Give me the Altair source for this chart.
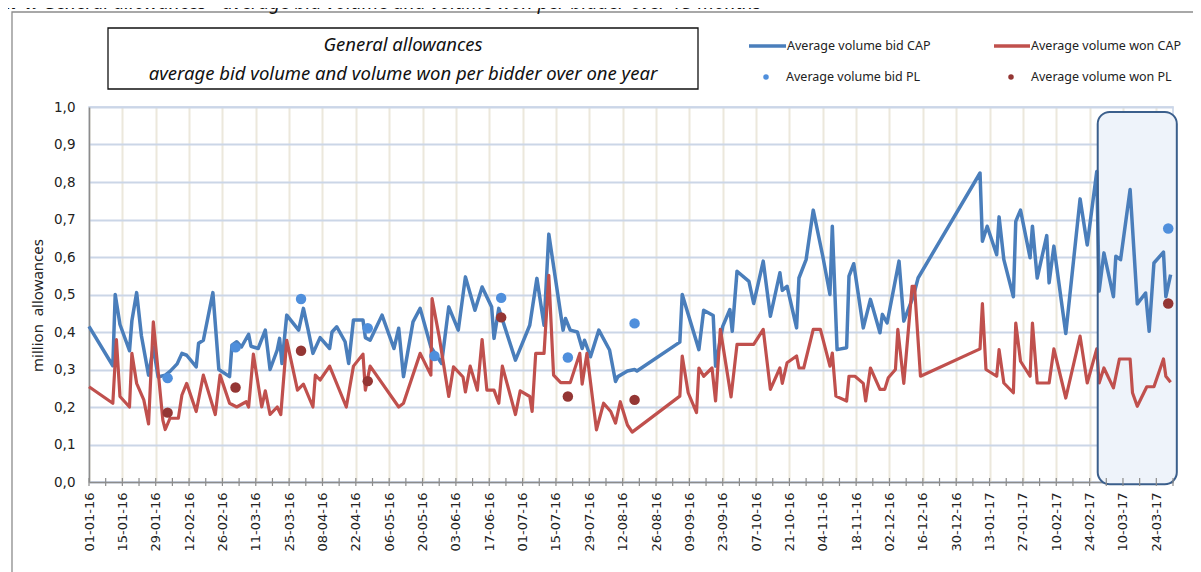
import altair as alt
import pandas as pd

# ---- data (x = days since 01-01-2016) ----
bid_cap_day = [0, 10, 11, 13, 17, 18, 20, 22, 25, 27, 29, 32, 34, 37, 39, 41, 45, 46, 48, 52,
               54.5, 59, 60, 62, 64, 67, 68, 71, 74, 76, 79, 80, 81, 83, 88, 90, 92, 94, 97, 101,
               102, 104, 107.5, 109, 111, 115, 116, 118, 123, 128, 130, 132, 136, 139, 143.5, 148, 151, 155, 158, 162,
               165, 169, 170, 172, 179, 185, 188, 191, 193, 199, 200, 202, 205, 207, 208, 210.5, 214, 218.5, 221, 222,
               226, 229, 230, 248, 249, 256, 258, 262, 263, 266, 269, 270, 272, 277, 279, 283, 286, 290, 291, 293,
               297, 298, 301, 304, 308, 311, 312, 314, 318, 319, 321, 325, 328, 332, 333, 335, 340, 342, 346, 348,
               374, 375, 377, 381, 382, 384, 388, 389, 391, 395, 396, 398, 402, 403, 405, 410, 416, 419, 423, 424,
               426, 430, 431, 433, 437, 440, 443.5, 445, 447, 451, 452, 454]
bid_cap_val = [0.415, 0.31, 0.50, 0.42, 0.35, 0.43, 0.505, 0.39, 0.285, 0.36, 0.28, 0.285, 0.295, 0.315, 0.343, 0.338, 0.307, 0.37, 0.378, 0.505,
               0.30, 0.281, 0.365, 0.374, 0.36, 0.394, 0.362, 0.356, 0.405, 0.30, 0.352, 0.383, 0.316, 0.445, 0.405, 0.463, 0.405, 0.343, 0.385, 0.356,
               0.40, 0.414, 0.374, 0.316, 0.432, 0.432, 0.385, 0.378, 0.445, 0.356, 0.41, 0.281, 0.427, 0.463, 0.36, 0.316, 0.467, 0.405, 0.547, 0.458,
               0.52, 0.467, 0.383, 0.463, 0.325, 0.418, 0.543, 0.418, 0.661, 0.405, 0.436, 0.405, 0.40, 0.356, 0.378, 0.334, 0.405, 0.352, 0.268, 0.281,
               0.296, 0.30, 0.296, 0.373, 0.50, 0.353, 0.458, 0.444, 0.309, 0.415, 0.46, 0.402, 0.562, 0.535, 0.476, 0.589, 0.442, 0.558, 0.511, 0.522,
               0.411, 0.544, 0.593, 0.725, 0.602, 0.50, 0.682, 0.353, 0.358, 0.549, 0.582, 0.411, 0.487, 0.398, 0.447, 0.424, 0.589, 0.429, 0.495, 0.544,
               0.824, 0.642, 0.682, 0.606, 0.707, 0.593, 0.494, 0.695, 0.725, 0.598, 0.682, 0.544, 0.657, 0.531, 0.629, 0.396, 0.755, 0.632, 0.828, 0.509,
               0.611, 0.494, 0.602, 0.593, 0.78, 0.475, 0.504, 0.402, 0.584, 0.613, 0.494, 0.553]

won_cap_day = [0, 10, 11.5, 13, 17, 18, 20, 23, 25, 27, 31, 32, 34, 37.5, 39, 41, 45, 48, 53, 55,
               59, 62, 66, 67, 69, 72.5, 74, 76, 79, 80.5, 83, 87.5, 90, 94, 95, 97, 101, 108, 111, 115,
               116, 118, 130, 132, 139, 143.5, 144, 147, 151, 153, 157, 158, 160, 163, 165, 167, 170, 172, 173.5, 179,
               181, 185, 186, 187.5, 191, 193, 195, 198, 202, 206, 207, 209, 213, 216, 219, 221, 223, 226, 228, 248,
               249, 251.5, 255, 256, 258, 261.5, 263, 265, 269.5, 272, 279, 283, 286, 290, 291, 293, 297, 298, 300, 304,
               307, 311, 312, 313.5, 318, 319, 321.5, 325, 326, 328, 332, 334, 335.5, 338.5, 339.5, 342, 345.5, 346.5, 349, 374,
               375, 376.5, 381, 382, 384, 388, 389, 391, 395, 396, 398, 403, 405, 410, 416, 419, 423, 424, 426, 430,
               432.5, 437, 438, 440, 444, 447, 451, 452, 454]
won_cap_val = [0.254, 0.21, 0.38, 0.228, 0.20, 0.343, 0.263, 0.219, 0.155, 0.427, 0.165, 0.14, 0.17, 0.17, 0.232, 0.263, 0.188, 0.285, 0.18, 0.285,
               0.21, 0.20, 0.214, 0.20, 0.341, 0.20, 0.243, 0.18, 0.20, 0.18, 0.378, 0.245, 0.261, 0.20, 0.285, 0.272, 0.309, 0.20, 0.309, 0.341,
               0.245, 0.309, 0.20, 0.21, 0.343, 0.285, 0.489, 0.387, 0.228, 0.307, 0.28, 0.24, 0.309, 0.245, 0.38, 0.245, 0.245, 0.21, 0.309, 0.18,
               0.243, 0.228, 0.188, 0.343, 0.343, 0.551, 0.285, 0.265, 0.265, 0.343, 0.261, 0.343, 0.139, 0.21, 0.188, 0.157, 0.214, 0.152, 0.133, 0.229,
               0.336, 0.238, 0.185, 0.304, 0.282, 0.304, 0.216, 0.407, 0.227, 0.367, 0.367, 0.407, 0.247, 0.304, 0.263, 0.318, 0.336, 0.304, 0.304, 0.407,
               0.407, 0.309, 0.344, 0.229, 0.216, 0.282, 0.282, 0.263, 0.216, 0.304, 0.247, 0.247, 0.278, 0.30, 0.407, 0.263, 0.522, 0.522, 0.282, 0.355,
               0.476, 0.30, 0.282, 0.353, 0.264, 0.238, 0.424, 0.322, 0.282, 0.424, 0.264, 0.264, 0.355, 0.224, 0.389, 0.264, 0.355, 0.264, 0.304, 0.251,
               0.328, 0.328, 0.238, 0.202, 0.254, 0.254, 0.328, 0.282, 0.266]

bid_pl_day = [33, 61.5, 89, 117, 145, 173, 201, 229, 453]
bid_pl_val = [0.277, 0.359, 0.488, 0.41, 0.336, 0.491, 0.332, 0.423, 0.676]
won_pl_day = [33, 61.5, 89, 117, 173, 201, 229, 453]
won_pl_val = [0.185, 0.252, 0.35, 0.269, 0.439, 0.228, 0.219, 0.476]

x_tick_days = list(range(0, 449, 14))
minor_tick_days = list(range(0, 456, 7))
y_tick_vals = [0.0, 0.1, 0.2, 0.3, 0.4, 0.5, 0.6, 0.7, 0.8, 0.9, 1.0]
box_days = [423.4, 456.6]
box_vals = [0.987, -0.006]

series_names = ["Average volume bid CAP", "Average volume won CAP",
                "Average volume bid PL", "Average volume won PL"]
graph_label = "Graph 4."
graph_title = "General allowances - average bid volume and volume won per bidder over 15 months"
box_title = ["General allowances", "average bid volume and volume won per bidder over one year"]

BLUE = "#4a7ebb"
RED = "#c0504d"
BLUE_PL = "#4f8fdc"
RED_PL = "#943634"

W, H = 1084, 375

bid_cap = pd.DataFrame({"day": bid_cap_day, "val": bid_cap_val})
won_cap = pd.DataFrame({"day": won_cap_day, "val": won_cap_val})
bid_pl = pd.DataFrame({"day": bid_pl_day, "val": bid_pl_val})
won_pl = pd.DataFrame({"day": won_pl_day, "val": won_pl_val})
one = pd.DataFrame({"a": [0]})

xscale = alt.Scale(domain=[0, 455], nice=False, zero=False)
yscale = alt.Scale(domain=[0, 1], nice=False)

xaxis = alt.Axis(values=x_tick_days,
                 labelExpr="timeFormat(datetime(2016, 0, 1 + datum.value), '%d-%m-%y')",
                 labelAngle=270, labelAlign="right", labelBaseline="middle",
                 labelFont="DejaVu Sans", labelFontSize=13, labelColor="#222",
                 labelPadding=10, ticks=False, grid=True, gridColor="#ece8dc", gridWidth=2,
                 domainColor="#8c8c8c", domainWidth=1.5, title=None,
                 labelOverlap=False, labelFlush=False, labelBound=False)
yaxis = alt.Axis(values=y_tick_vals,
                 labelExpr="replace(format(datum.value, '.1f'), '.', ',')",
                 labelFont="DejaVu Sans", labelFontSize=13.5, labelColor="#222",
                 labelPadding=14, ticks=False, grid=True, gridColor="#cbd6e7", gridWidth=2,
                 domainColor="#8c8c8c", domainWidth=1.5,
                 labelOverlap=False, labelFlush=False, labelBound=False,
                 title="million\u00a0 allowances", titleFont="Noto Sans", titleFontSize=15,
                 titleFontWeight="normal", titleColor="#222", titleAngle=270,
                 titleX=-52, titleY=198, titleAlign="center", titleBaseline="middle")


def xenc(field="day"):
    return alt.X(f"{field}:Q", scale=xscale, axis=xaxis)


def yenc(field="val"):
    return alt.Y(f"{field}:Q", scale=yscale, axis=yaxis)


base_line = alt.Chart(bid_cap).mark_line(color=BLUE, strokeWidth=3.5, strokeJoin="round").encode(
    x=xenc(), y=yenc())
red_line = alt.Chart(won_cap).mark_line(color=RED, strokeWidth=3.2, strokeJoin="round").encode(
    x=xenc(), y=yenc())
blue_dots = alt.Chart(bid_pl).mark_circle(color=BLUE_PL, size=110, opacity=1).encode(
    x=xenc(), y=yenc())
red_dots = alt.Chart(won_pl).mark_circle(color=RED_PL, size=110, opacity=1).encode(
    x=xenc(), y=yenc())

ticks = alt.Chart(pd.DataFrame({"day": minor_tick_days})).mark_rule(color="#8c8c8c", strokeWidth=1.2).encode(
    x=xenc(), y=alt.value(H - 4), y2=alt.value(H + 4))

box_df = pd.DataFrame({"day": [box_days[0]], "d1": [box_days[1]],
                       "val": [box_vals[0]], "v1": [box_vals[1]]})
box_fill = alt.Chart(box_df).mark_rect(fill="#eef3fa", cornerRadius=12).encode(
    x=xenc(), x2="d1:Q", y=yenc(), y2="v1:Q")
box_edge = alt.Chart(box_df).mark_rect(fill="white", fillOpacity=0, stroke="#3b5f8c",
                                       strokeWidth=2, cornerRadius=12).encode(
    x=xenc(), x2="d1:Q", y=yenc(), y2="v1:Q")

# frame and title box (pixel offsets relative to plot area)
frame = alt.Chart(one).mark_rect(fill="white", fillOpacity=0, stroke="#8c8c8c", strokeWidth=1.3).encode(
    x=alt.value(-77), x2=alt.value(1150), y=alt.value(-95), y2=alt.value(540))
tbox = alt.Chart(one).mark_rect(fill="white", stroke="#111", strokeWidth=1.3).encode(
    x=alt.value(19), x2=alt.value(609), y=alt.value(-79), y2=alt.value(-18))
t1 = alt.Chart(one).mark_text(text=box_title[0], font="Noto Sans", fontStyle="italic", fontSize=18.5,
                              color="#111", align="center", baseline="middle").encode(
    x=alt.value(314), y=alt.value(-62))
t2 = alt.Chart(one).mark_text(text=box_title[1], font="Noto Sans", fontStyle="italic", fontSize=18.5,
                              color="#111", align="center", baseline="middle").encode(
    x=alt.value(314), y=alt.value(-33))
gtitle_a = alt.Chart(one).mark_text(text=graph_label, font="Noto Sans", fontStyle="italic", fontWeight="bold",
                                    fontSize=19, color="#111", align="right", baseline="alphabetic").encode(
    x=alt.value(-51), y=alt.value(-98))
gtitle_b = alt.Chart(one).mark_text(text=graph_title, font="Noto Sans", fontStyle="italic",
                                    fontSize=19, color="#111", align="left", baseline="alphabetic").encode(
    x=alt.value(-46), y=alt.value(-98))

# legend
leg = []
leg.append(alt.Chart(one).mark_rule(color=BLUE, strokeWidth=3.5).encode(
    x=alt.value(660), x2=alt.value(697), y=alt.value(-61)))
leg.append(alt.Chart(one).mark_rule(color=RED, strokeWidth=3.5).encode(
    x=alt.value(905), x2=alt.value(941), y=alt.value(-61)))
leg.append(alt.Chart(one).mark_circle(color=BLUE_PL, size=30, opacity=1).encode(
    x=alt.value(677), y=alt.value(-30)))
leg.append(alt.Chart(one).mark_circle(color=RED_PL, size=30, opacity=1).encode(
    x=alt.value(922), y=alt.value(-30)))
for name, lx, ly in [(series_names[0], 698, -61), (series_names[1], 942, -61),
                     (series_names[2], 697, -30), (series_names[3], 942, -30)]:
    leg.append(alt.Chart(one).mark_text(text=name, font="Noto Sans", fontSize=12.5, color="#222",
                                        align="left", baseline="middle").encode(
        x=alt.value(lx), y=alt.value(ly)))

chart = alt.layer(
    frame, gtitle_a, gtitle_b, tbox, t1, t2, box_fill,
    base_line, red_line, box_edge, blue_dots, red_dots, ticks, *leg
).resolve_scale(x="shared", y="shared").properties(
    width=W, height=H,
    padding={"left": 81, "top": 99, "right": 20, "bottom": 90},
    autosize=alt.AutoSizeParams(type="none"),
).configure_view(stroke="#c5d2e6", strokeWidth=1.5).configure_axis(labelOverlap=False)

chart.save("out.html", embed_options={"renderer": "svg", "actions": False})
